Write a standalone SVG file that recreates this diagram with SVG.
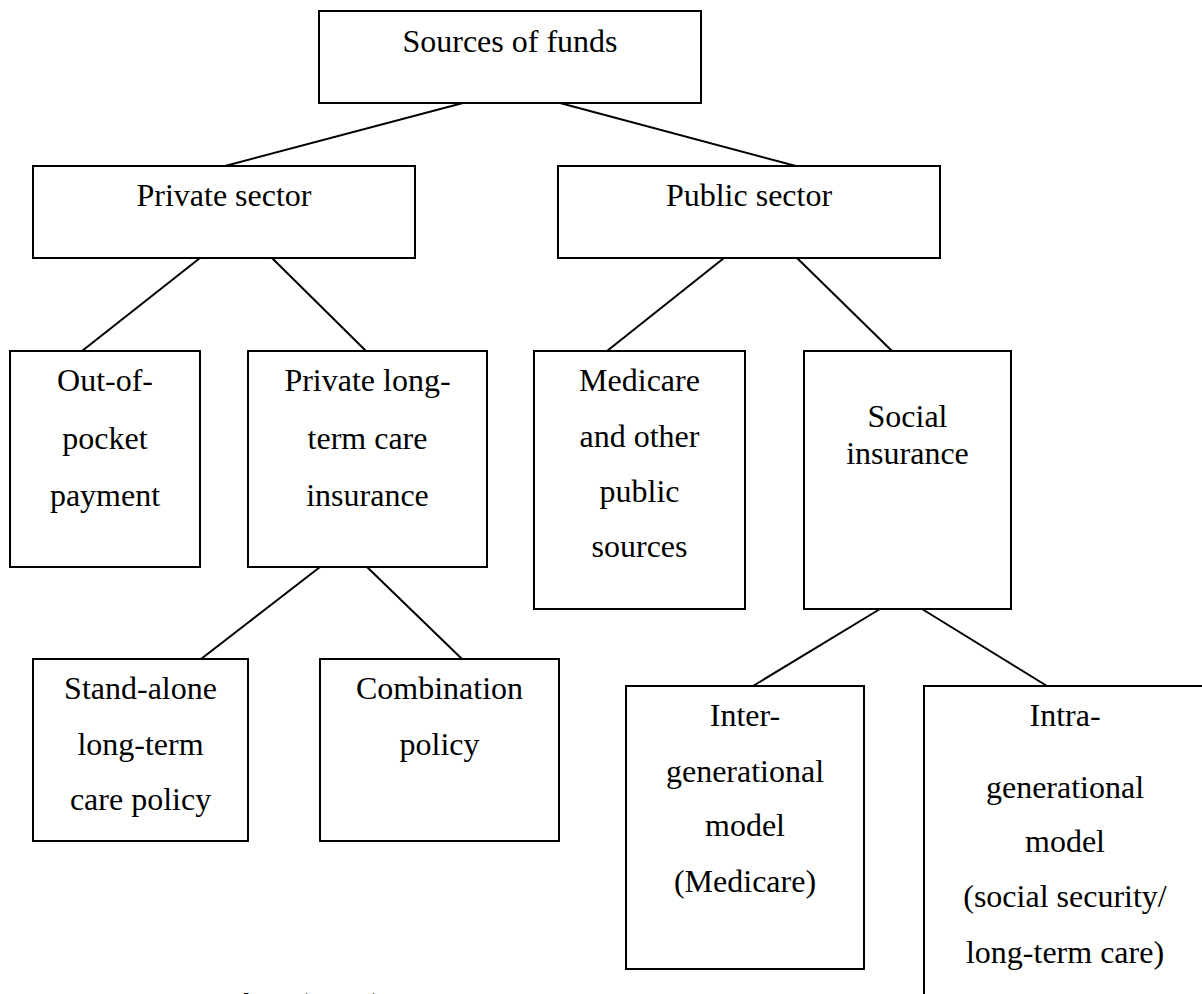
<svg xmlns="http://www.w3.org/2000/svg" width="1202" height="994" viewBox="0 0 1202 994">
<style>
.box{fill:#fff;stroke:#000;stroke-width:2}
.t{font-size:32px;fill:#000;text-anchor:middle}
.src{font-size:32px;font-style:italic;fill:#000}
.c line{stroke:#000;stroke-width:2}
</style>
<rect width="1202" height="994" fill="#fff"/>
<g id="connectors" class="c">
<line x1="463" y1="103" x2="225" y2="166"/>
<line x1="560" y1="103" x2="796" y2="166"/>
<line x1="200" y1="258" x2="82" y2="351"/>
<line x1="272" y1="258" x2="366" y2="351"/>
<line x1="724" y1="258" x2="607" y2="351"/>
<line x1="797" y1="258" x2="892" y2="351"/>
<line x1="320" y1="567" x2="201" y2="659"/>
<line x1="367" y1="567" x2="462" y2="659"/>
<line x1="880" y1="609" x2="753" y2="686"/>
<line x1="922" y1="609" x2="1047" y2="686"/>
</g>
<g font-family="Liberation Serif, DejaVu Serif, serif">
<g id="sources">
<rect class="box" x="319" y="11" width="382" height="92"/>
<text class="t" x="510" y="52">Sources of funds</text>
</g>
<g id="private">
<rect class="box" x="33" y="166" width="382" height="92"/>
<text class="t" x="224" y="206">Private sector</text>
</g>
<g id="public">
<rect class="box" x="558" y="166" width="382" height="92"/>
<text class="t" x="749" y="206">Public sector</text>
</g>
<g id="outofpocket">
<rect class="box" x="10" y="351" width="190" height="216"/>
<text class="t" x="105" y="391">Out-of-</text>
<text class="t" x="105" y="449">pocket</text>
<text class="t" x="105" y="506">payment</text>
</g>
<g id="privateltc">
<rect class="box" x="248" y="351" width="239" height="216"/>
<text class="t" x="367.5" y="391">Private long-</text>
<text class="t" x="367.5" y="449">term care</text>
<text class="t" x="367.5" y="506">insurance</text>
</g>
<g id="medicare">
<rect class="box" x="534" y="351" width="211" height="258"/>
<text class="t" x="639.5" y="391">Medicare</text>
<text class="t" x="639.5" y="447">and other</text>
<text class="t" x="639.5" y="502">public</text>
<text class="t" x="639.5" y="557">sources</text>
</g>
<g id="social">
<rect class="box" x="804" y="351" width="207" height="258"/>
<text class="t" x="907.5" y="427">Social</text>
<text class="t" x="907.5" y="464">insurance</text>
</g>
<g id="standalone">
<rect class="box" x="33" y="659" width="215" height="182"/>
<text class="t" x="140.5" y="699">Stand-alone</text>
<text class="t" x="140.5" y="755">long-term</text>
<text class="t" x="140.5" y="810">care policy</text>
</g>
<g id="combination">
<rect class="box" x="320" y="659" width="239" height="182"/>
<text class="t" x="439.5" y="699">Combination</text>
<text class="t" x="439.5" y="755">policy</text>
</g>
<g id="inter">
<rect class="box" x="626" y="686" width="238" height="283"/>
<text class="t" x="745" y="726">Inter-</text>
<text class="t" x="745" y="782">generational</text>
<text class="t" x="745" y="836">model</text>
<text class="t" x="745" y="892">(Medicare)</text>
</g>
<g id="intra">
<rect class="box" x="924" y="686" width="284" height="330"/>
<text class="t" x="1065" y="726">Intra-</text>
<text class="t" x="1065" y="798">generational</text>
<text class="t" x="1065" y="852">model</text>
<text class="t" x="1065" y="907">(social security/</text>
<text class="t" x="1065" y="963">long-term care)</text>
</g>
<text class="src" x="113" y="1015">Source: Chen (2008)</text>
</g>
</svg>
